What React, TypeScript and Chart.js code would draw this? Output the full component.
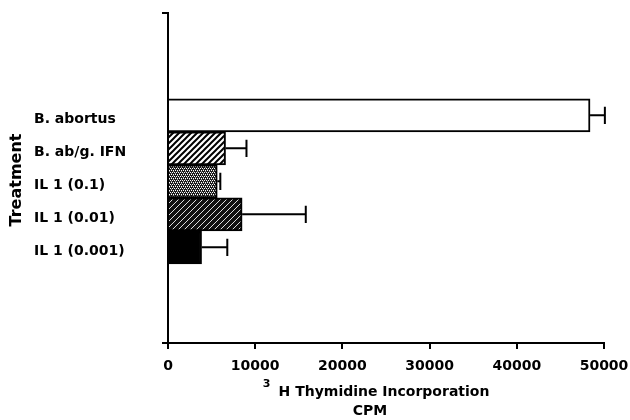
import React, { useEffect, useRef } from 'react';
import { Chart, registerables } from 'chart.js';

Chart.register(...registerables);

// ---- data ----
const categories = ['B. abortus', 'B. ab/g. IFN', 'IL 1 (0.1)', 'IL 1 (0.01)', 'IL 1 (0.001)'];
const cpm = [48400, 6600, 5650, 8500, 3850];
const cpmError = [1700, 2400, 350, 7300, 2950];
const xTicks = [0, 10000, 20000, 30000, 40000, 50000];
const xTitleSup = '3';
const xTitleLine1 = 'H Thymidine Incorporation';
const xTitleLine2 = 'CPM';
const yTitle = 'Treatment';

const FONT = "'DejaVu Sans', Arial, sans-serif";

function makeTile(size: number, draw: (g: CanvasRenderingContext2D, s: number) => void): CanvasPattern | string {
  const c = document.createElement('canvas');
  c.width = size;
  c.height = size;
  const g = c.getContext('2d');
  if (!g) return '#000';
  draw(g, size);
  const ctx = document.createElement('canvas').getContext('2d');
  const p = ctx ? ctx.createPattern(c, 'repeat') : null;
  return p || '#000';
}

function diagonal(bg: string, fg: string, size: number, lw: number) {
  return makeTile(size, (g, s) => {
    g.fillStyle = bg;
    g.fillRect(0, 0, s, s);
    g.strokeStyle = fg;
    g.lineWidth = lw;
    g.beginPath();
    g.moveTo(0, s);
    g.lineTo(s, 0);
    g.moveTo(-s / 2, s / 2);
    g.lineTo(s / 2, -s / 2);
    g.moveTo(s / 2, (3 * s) / 2);
    g.lineTo((3 * s) / 2, s / 2);
    g.stroke();
  });
}

function stipple() {
  return makeTile(4, (g, s) => {
    g.fillStyle = '#1a1a1a';
    g.fillRect(0, 0, s, s);
    g.fillStyle = '#ffffff';
    g.fillRect(0, 0, 1, 1);
    g.fillRect(2, 0, 1, 1);
    g.fillRect(1, 2, 1, 1);
    g.fillRect(3, 2, 1, 1);
    g.fillStyle = '#888';
    g.fillRect(3, 1, 1, 1);
    g.fillRect(1, 3, 1, 1);
  });
}

const errorBarsPlugin = {
  id: 'errorBars',
  afterDatasetsDraw(chart: any) {
    const meta = chart.getDatasetMeta(0);
    const xs = chart.scales.x;
    const ctx = chart.ctx as CanvasRenderingContext2D;
    ctx.save();
    ctx.strokeStyle = '#000';
    ctx.lineWidth = 2;
    meta.data.forEach((el: any, i: number) => {
      const x1 = el.x;
      const x2 = xs.getPixelForValue(cpm[i] + cpmError[i]);
      const y = el.y;
      const cap = el.height * 0.26;
      ctx.beginPath();
      ctx.moveTo(x1, y);
      ctx.lineTo(x2, y);
      ctx.moveTo(x2, y - cap);
      ctx.lineTo(x2, y + cap);
      ctx.stroke();
    });
    ctx.restore();
  },
};

const titlesPlugin = {
  id: 'customTitles',
  afterDraw(chart: any) {
    const ctx = chart.ctx as CanvasRenderingContext2D;
    const a = chart.chartArea;
    const cx = (a.left + a.right) / 2;
    ctx.save();
    ctx.fillStyle = '#000';
    ctx.textBaseline = 'middle';
    // y title
    ctx.save();
    ctx.translate(17, (a.top + a.bottom) / 2 + 2);
    ctx.rotate(-Math.PI / 2);
    ctx.textAlign = 'center';
    ctx.font = `bold 16px ${FONT}`;
    ctx.fillText(yTitle, 0, 0);
    ctx.restore();
    // x title
    ctx.textAlign = 'center';
    ctx.font = `bold 14px ${FONT}`;
    const l1x = cx - 2;
    const l1y = a.bottom + 49;
    ctx.fillText(xTitleLine1, l1x, l1y);
    const w1 = ctx.measureText(xTitleLine1).width;
    ctx.fillText(xTitleLine2, cx - 16, a.bottom + 68);
    ctx.font = `bold 11px ${FONT}`;
    ctx.fillText(xTitleSup, l1x - w1 / 2 - 12, a.bottom + 41);
    ctx.restore();
  },
};

export default function App() {
  const ref = useRef<HTMLCanvasElement | null>(null);

  useEffect(() => {
    if (!ref.current) return;
    const fills = [
      '#ffffff',
      diagonal('#ffffff', '#000000', 6, 2),
      stipple(),
      diagonal('#111111', '#dddddd', 6, 1),
      '#000000',
    ];
    const chart = new Chart(ref.current, {
      type: 'bar',
      data: {
        datasets: [
          {
            data: cpm.map((v, i) => ({ x: v, y: i })) as any,
            backgroundColor: fills as any,
            borderColor: '#000',
            borderWidth: 2,
            barPercentage: 1,
            categoryPercentage: 1,
          },
        ],
      },
      options: {
        indexAxis: 'y',
        animation: false,
        responsive: false,
        events: [],
        layout: { padding: { left: 34, top: 13, right: 26, bottom: 0 } },
        plugins: {
          legend: { display: false },
          tooltip: { enabled: false },
        },
        scales: {
          x: {
            type: 'linear',
            min: 0,
            max: 50000,
            afterBuildTicks: (scale: any) => {
              scale.ticks = xTicks.map((v) => ({ value: v }));
            },
            afterFit: (scale: any) => {
              scale.height = 77;
              scale.paddingLeft = 0;
              scale.paddingRight = 0;
            },
            ticks: {
              callback: (v: any) => String(v),
              color: '#000',
              font: { family: FONT, size: 14, weight: 'bold' },
              padding: 9,
              maxRotation: 0,
              autoSkip: false,
            },
            grid: {
              drawOnChartArea: false,
              drawTicks: true,
              tickLength: 6,
              color: '#000',
              lineWidth: 2,
            },
            border: { display: true, color: '#000', width: 2 },
          },
          y: {
            type: 'linear',
            reverse: true,
            offset: false,
            min: -3.1,
            max: 6.9,
            afterBuildTicks: (scale: any) => {
              scale.ticks = [
                { value: scale.min },
                ...categories.map((_, i) => ({ value: i })),
                { value: scale.max },
              ];
            },
            afterFit: (scale: any) => {
              scale.width = 134;
              scale.paddingTop = 0;
              scale.paddingBottom = 0;
            },
            ticks: {
              callback: (v: any) => (Number.isInteger(v) && categories[v] !== undefined ? categories[v] : ''),
              color: '#000',
              font: { family: FONT, size: 14, weight: 'bold' },
              crossAlign: 'far',
              labelOffset: 4,
              autoSkip: false,
            },
            grid: {
              offset: false,
              drawOnChartArea: false,
              drawTicks: true,
              tickLength: 6,
              lineWidth: 2,
              color: (c: any) =>
                c.index === 0 || c.index === categories.length + 1 ? '#000' : 'rgba(0,0,0,0)',
            },
            border: { display: true, color: '#000', width: 2 },
          },
        },
      } as any,
      plugins: [errorBarsPlugin, titlesPlugin],
    });
    return () => chart.destroy();
  }, []);

  return (
    <div style={{ position: 'fixed', left: 0, top: 0, width: 630, height: 420, background: '#fff' }}>
      <canvas ref={ref} width={630} height={420} style={{ display: 'block' }} />
    </div>
  );
}
